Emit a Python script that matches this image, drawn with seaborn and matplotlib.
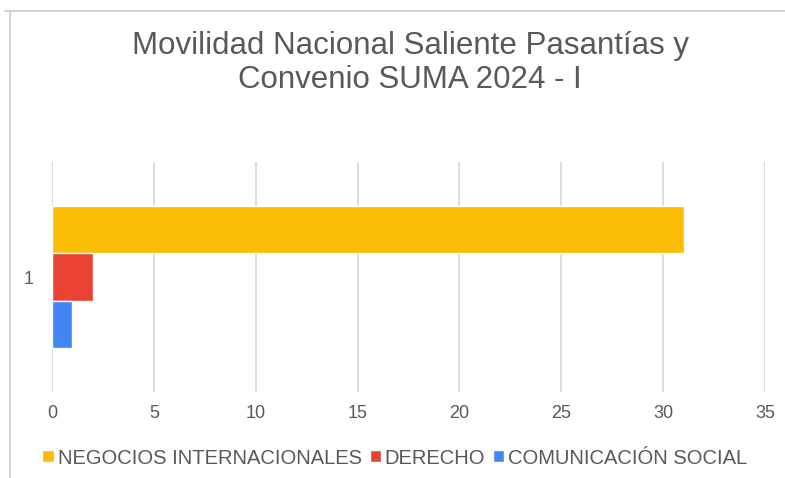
import matplotlib
matplotlib.use("Agg")
import matplotlib.pyplot as plt
import seaborn as sns
import pandas as pd
from matplotlib.lines import Line2D

# Data
categories = ["1", "1", "1"]
series = ["NEGOCIOS INTERNACIONALES", "DERECHO", "COMUNICACIÓN SOCIAL"]
values = [31, 2, 1]
colors = ["#FBBC04", "#EA4335", "#4285F4"]
x_ticks = [0, 5, 10, 15, 20, 25, 30, 35]

df = pd.DataFrame({"cat": categories, "series": series, "value": values})

sns.set_theme(style="white")
plt.rcParams["font.family"] = ["Liberation Sans", "DejaVu Sans"]

W, H = 785, 478
fig = plt.figure(figsize=(W / 100, H / 100), dpi=100)
ax = fig.add_axes([52 / W, 1 - 392 / H, (765 - 52) / W, (392 - 162) / H])

sns.barplot(data=df, y="cat", x="value", hue="series", hue_order=series,
            palette=colors, orient="h", width=0.617, gap=0, saturation=1,
            ax=ax, legend=True)

ax.set_xlim(0, 35)
ax.set_xticks(x_ticks)
ax.set_xticklabels([str(t) for t in x_ticks])
ax.set_ylim(0.5, -0.5)
ax.set_xlabel("")
ax.set_ylabel("")
for s in ax.spines.values():
    s.set_visible(False)
ax.grid(axis="x", color="#d9d9d9", linewidth=1.3)
ax.grid(axis="y", visible=False)
ax.set_axisbelow(True)
ax.tick_params(axis="both", length=0, labelsize=13, colors="#595959")
ax.tick_params(axis="x", pad=9)
ax.tick_params(axis="y", pad=13)

leg = ax.legend(loc="center", bbox_to_anchor=(395 / W, 1 - 458 / H),
                bbox_transform=fig.transFigure, ncol=3, frameon=False,
                fontsize=14.5, handlelength=0.55, handleheight=0.55,
                handletextpad=0.2, columnspacing=0.4, labelcolor="#595959")

fig.text(410 / W, 1 - 63 / H, "Movilidad Nacional Saliente Pasantías y\nConvenio SUMA 2024 - I",
         ha="center", va="center", fontsize=22.5, color="#595959", linespacing=1.17)

# chart frame
fig.add_artist(Line2D([5 / W, 1], [1 - 10.5 / H, 1 - 10.5 / H], transform=fig.transFigure,
                      color="#d4d4d4", linewidth=1.5))
fig.add_artist(Line2D([9.5 / W, 9.5 / W], [1 - 10.5 / H, 0], transform=fig.transFigure,
                      color="#d4d4d4", linewidth=1.5))

fig.savefig("out.png", dpi=100)
